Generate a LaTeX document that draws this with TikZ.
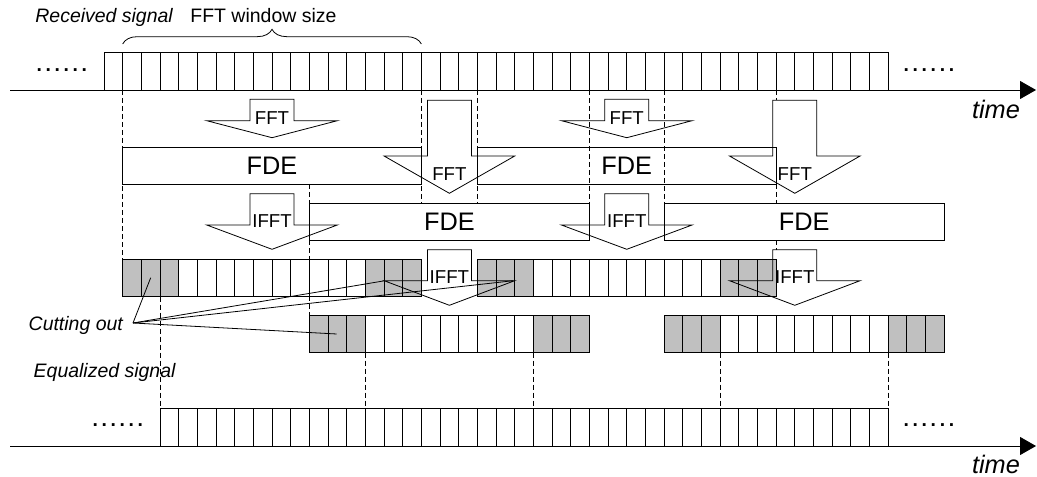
\documentclass[tikz,border=0pt]{standalone}
\usepackage{fontspec}
\setmainfont{Liberation Sans}
\newfontfamily\dotfont[LetterSpace=18.8]{Liberation Sans Bold}
\usetikzlibrary{arrows.meta,decorations.pathreplacing}
\definecolor{cutgray}{RGB}{192,192,192}

\begin{document}
\begin{tikzpicture}[x=0.75pt,y=-0.75pt,line width=0.6pt]
  % Parameters
  \def\xo{104}       % left end of the received signal
  \def\cellw{18.67}  % one sample
  \def\cellh{37.2}
  \def\shaftw{22}    % half width of an arrow shaft
  \def\headw{65.3}   % half width of an arrow head

  \tikzset{
    txt/.style={inner sep=0pt, font=\fontsize{14.6}{16}\selectfont},
    big/.style={inner sep=0pt, font=\fontsize{19}{22}\selectfont},
    small/.style={inner sep=0pt, font=\fontsize{14}{16}\selectfont},
    dots/.style={inner sep=0pt, anchor=base west, font=\fontsize{14.5}{16}\dotfont},
    guide/.style={dash pattern=on 3.75pt off 2.25pt, line width=0.5pt},
    timeaxis/.style={-{Triangle[length=12pt,width=13.5pt]}},
    % plain row of samples
    pics/strip/.style={code={
      \foreach \i in {1,...,#1} {
        \draw (\i*\cellw,0) -- (\i*\cellw,\cellh);
      }
      \draw (0,0) rectangle (#1*\cellw,\cellh);
    }},
    % FFT window, 3 samples cut out at each end
    pics/window/.style={code={
      \fill[cutgray] (0,0) rectangle (3*\cellw,\cellh);
      \fill[cutgray] ({(#1-3)*\cellw},0) rectangle ({#1*\cellw},\cellh);
      \foreach \i in {1,...,#1} {
        \draw (\i*\cellw,0) -- (\i*\cellw,\cellh);
      }
      \draw (0,0) rectangle (#1*\cellw,\cellh);
    }},
    % block arrow: shaft length, tip depth
    pics/blockarrow/.style 2 args={code={
      \draw (-\shaftw,0) -- (\shaftw,0) -- (\shaftw,#1) -- (\headw,#1)
        -- (0,#2) -- (-\headw,#1) -- (-\shaftw,#1) -- cycle;
    }},
  }

  \useasboundingbox (0,0) rectangle (1037,477);

  % Window borders
  \foreach \k/\ya/\yb in {1/90/259, 17/90/203, 20/90/203, 26/90/203, 30/90/203,
      36/90/100, 36/184/203, 36/240/250, 11/184/315, 3/296.7/408.3,
      14/352.7/408.3, 23/352.7/408.3, 33/352.7/408.3, 42/352.7/408.3} {
    \draw[guide] ({\xo+\k*\cellw},\ya) -- ({\xo+\k*\cellw},\yb);
  }

  % Received signal
  \node[txt, anchor=base west] (rx) at (35,22.7) {\itshape Received signal};
  \node[txt, anchor=base west] (winsize) at (190,22.7) {FFT window size};
  \draw[decorate, decoration={brace, amplitude=11pt}]
    ({\xo+\cellw},44) -- ({\xo+17*\cellw},44);
  \pic at (\xo,52.8) {strip=42};
  \coordinate (rx0) at (10,90);
  \coordinate (rx1) at (1036,90);
  \draw[timeaxis] (rx0) -- (rx1);
  \node[dots] (rxdotsl) at (36.3,71.3) {......};
  \node[dots] (rxdotsr) at (903.3,71.3) {......};
  \node[big, anchor=base west] (rxtime) at (971.6,118.3) {\itshape time};

  % FDE blocks: first sample / samples / top
  \foreach \k/\n/\y [count=\j] in {1/16/147, 20/16/147, 11/15/203, 30/15/203} {
    \draw ({\xo+\k*\cellw},\y) rectangle ++({\n*\cellw},37);
    \node[big] (fde\j) at ({\xo+(\k+\n/2)*\cellw},{\y+18.5}) {FDE};
  }

  % Windows after IFFT
  \foreach \k in {1,20} {
    \pic at ({\xo+\k*\cellw},259) {window=16};
  }
  \foreach \k in {11,30} {
    \pic at ({\xo+\k*\cellw},315.5) {window=15};
  }

  % FFT / IFFT arrows: centre / top / shaft / tip / label / label y
  \foreach \k/\y/\s/\t/\lab/\ly [count=\j] in {
      9/99.3/21.4/38.4/FFT/117.8, 28/99.3/21.4/38.4/FFT/117.8,
      18.5/100.3/55.7/93/FFT/174, 37/100.3/55.7/93/FFT/174,
      9/193.7/31.3/55.6/IFFT/221, 28/193.7/31.3/55.6/IFFT/221,
      18.5/249.7/31/55.6/IFFT/277, 37/249.7/31/55.6/IFFT/277} {
    \pic at ({\xo+\k*\cellw},\y) {blockarrow={\s}{\t}};
    \node[small] (op\j) at ({\xo+\k*\cellw},\ly) {\lab};
  }

  % Cutting out
  \node[txt, anchor=base west] (cut) at (28.3,330) {\itshape Cutting out};
  \coordinate (cut0) at (133,323);
  \coordinate (cut1) at (150.7,277.7);
  \coordinate (cut2) at (385,280.7);
  \coordinate (cut3) at (513.3,280.7);
  \coordinate (cut4) at (336.7,334);
  \foreach \c in {cut1,cut2,cut3,cut4} {
    \draw (cut0) -- (\c);
  }

  % Equalized signal
  \node[txt, anchor=base west] (eq) at (33.3,377.3) {\itshape Equalized signal};
  \pic at ({\xo+3*\cellw},408.8) {strip=39};
  \coordinate (eq0) at (10,446);
  \coordinate (eq1) at (1036,446);
  \draw[timeaxis] (eq0) -- (eq1);
  \node[dots] (eqdotsl) at (92.3,426.3) {......};
  \node[dots] (eqdotsr) at (903.3,426.3) {......};
  \node[big, anchor=base west] (eqtime) at (971.6,473) {\itshape time};
\end{tikzpicture}
\end{document}
